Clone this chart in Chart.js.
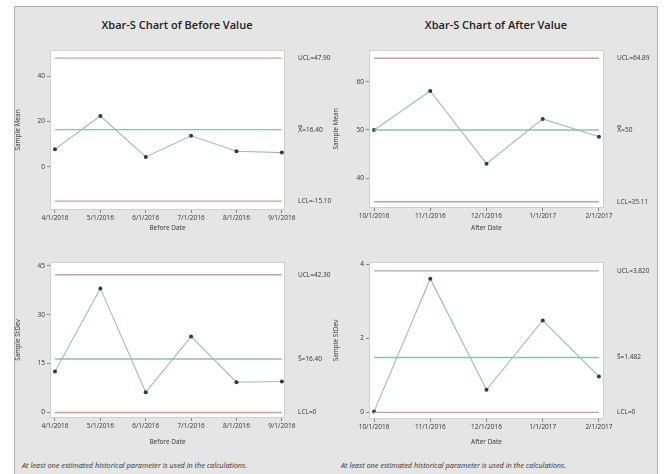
<!DOCTYPE html>
<html><head><meta charset="utf-8">
<script src="https://cdn.jsdelivr.net/npm/chart.js@4.4.1/dist/chart.umd.min.js"></script>
<style>
html,body{margin:0;padding:0;background:#fff;width:664px;height:474px;overflow:hidden;font-family:"Open Sans",sans-serif;}
#frame{position:absolute;left:14px;top:6px;width:644px;height:470px;background:#e5e5e5;border:1px solid #b0b0b0;border-bottom:none;box-sizing:border-box;}
.wrap{position:absolute;}
.title{position:absolute;font-size:11px;font-weight:600;color:#222;text-align:center;white-space:nowrap;}
.note{position:absolute;font-size:7.3px;font-style:italic;color:#333;white-space:nowrap;}
</style></head><body>
<div id="frame"></div>
<div class="title" style="left:14px;width:326px;top:17px">Xbar-S Chart of Before Value</div>
<div class="title" style="left:332px;width:328px;top:17px">Xbar-S Chart of After Value</div>
<div class="wrap" style="left:14px;top:6px;width:318px;height:226px"><canvas id="c1" width="318" height="226"></canvas></div>
<div class="wrap" style="left:332px;top:6px;width:326px;height:226px"><canvas id="c2" width="326" height="226"></canvas></div>
<div class="wrap" style="left:14px;top:238px;width:318px;height:208px"><canvas id="c3" width="318" height="208"></canvas></div>
<div class="wrap" style="left:332px;top:238px;width:326px;height:208px"><canvas id="c4" width="326" height="208"></canvas></div>
<div class="note" style="left:22px;top:460px">At least one estimated historical parameter is used in the calculations.</div>
<div class="note" style="left:341px;top:460px">At least one estimated historical parameter is used in the calculations.</div>
<script>
// ---- data ----
const beforeDates = ['4/1/2016','5/1/2016','6/1/2016','7/1/2016','8/1/2016','9/1/2016'];
const afterDates = ['10/1/2016','11/1/2016','12/1/2016','1/1/2017','2/1/2017'];
const beforeMeans = [7.8, 22.4, 4.4, 13.7, 6.9, 6.3];
const afterMeans = [50.0, 58.1, 43.0, 52.3, 48.6];
const beforeStDevs = [12.6, 38.1, 6.2, 23.3, 9.3, 9.5];
const afterStDevs = [0.02, 3.61, 0.61, 2.48, 0.97];
const beforeMeanLimits = [47.9, 16.4, -15.1];   // UCL, CL, LCL
const afterMeanLimits = [64.89, 50.0, 35.11];
const beforeStDevLimits = [42.3, 16.4, 0];
const afterStDevLimits = [3.82, 1.482, 0];
const beforeMeanLimitText = ['UCL=47.90', 'X\u033F=16.40', 'LCL=-15.10'];
const afterMeanLimitText = ['UCL=64.89', 'X\u033F=50', 'LCL=35.11'];
const beforeStDevLimitText = ['UCL=42.30', 'S\u0304=16.40', 'LCL=0'];
const afterStDevLimitText = ['UCL=3.820', 'S\u0304=1.482', 'LCL=0'];
const beforeMeanTicks = [0, 20, 40];
const afterMeanTicks = [40, 50, 60];
const beforeStDevTicks = [0, 15, 30, 45];
const afterStDevTicks = [0, 2, 4];

const FONT = {family:'"Open Sans", sans-serif', size:6.5};
const plotBg = {id:'plotBg', beforeDraw(c){const a=c.chartArea,ctx=c.ctx;ctx.save();ctx.fillStyle='#fff';ctx.fillRect(a.left,a.top,a.width,a.height);ctx.strokeStyle='#cfcfcf';ctx.lineWidth=1;ctx.strokeRect(a.left+0.5,a.top+0.5,a.width-1,a.height-1);ctx.restore();}};

function makeChart(id, o){
  const n = o.labels.length;
  const lim = (v)=>[{x:0,y:v},{x:n-1,y:v}];
  const limitStyle = (col)=>({borderColor:col,borderWidth:1.4,pointRadius:0,fill:false,tension:0});
  new Chart(document.getElementById(id), {
    type:'line',
    data:{datasets:[
      Object.assign({data:lim(o.limits[0])}, limitStyle('#c9a0a0')),
      Object.assign({data:lim(o.limits[1])}, limitStyle('#8fc0a8')),
      Object.assign({data:lim(o.limits[2])}, limitStyle('#c9a0a0')),
      {data:o.values.map((v,i)=>({x:i,y:v})), borderColor:'#9db9c8', borderWidth:1.1, pointRadius:2, pointBackgroundColor:'#2f3b4a', pointBorderColor:'#2f3b4a', pointBorderWidth:0, tension:0, fill:false}
    ]},
    options:{
      responsive:false, animation:false, events:[],
      layout:{padding:{top:o.top,left:0,right:0,bottom:0}},
      plugins:{legend:{display:false},tooltip:{enabled:false}},
      scales:{
        x:{type:'linear',min:o.xMin,max:o.xMax,
          afterBuildTicks:s=>{s.ticks=o.labels.map((_,i)=>({value:i}));},
          ticks:{callback:v=>o.labels[v],font:FONT,color:'#333',padding:1,maxRotation:0,autoSkip:false},
          grid:{drawOnChartArea:false,tickLength:3,color:'#888'},border:{display:false},
          title:{display:true,text:o.xTitle,font:FONT,color:'#333',padding:{top:1,bottom:0}},
          afterFit:s=>{s.height=o.bottom;}},
        y:{type:'linear',position:'left',min:o.yMin,max:o.yMax,
          afterBuildTicks:s=>{s.ticks=o.yTicks.map(v=>({value:v}));},
          ticks:{font:FONT,color:'#333',padding:2,autoSkip:false},
          grid:{drawOnChartArea:false,tickLength:3,color:'#888'},border:{display:false},
          title:{display:true,text:o.yTitle,font:FONT,color:'#333',padding:{top:0,bottom:3}},
          afterFit:s=>{s.width=o.left;}},
        y2:{type:'linear',position:'right',min:o.yMin,max:o.yMax,
          afterBuildTicks:s=>{s.ticks=o.limits.map(v=>({value:v}));},
          ticks:{callback:(v)=>o.limitText[o.limits.indexOf(v)],font:FONT,color:'#333',padding:5,autoSkip:false},
          grid:{display:false},border:{display:false},
          afterFit:s=>{s.width=o.right;}}
      }
    },
    plugins:[plotBg]
  });
}

makeChart('c1',{labels:beforeDates,values:beforeMeans,limits:beforeMeanLimits,limitText:beforeMeanLimitText,
  yMin:-19,yMax:51.5,yTicks:beforeMeanTicks,yTitle:'Sample Mean',xTitle:'Before Date',
  xMin:-0.11,xMax:5.07,top:44,bottom:22,left:36,right:47});
makeChart('c2',{labels:afterDates,values:afterMeans,limits:afterMeanLimits,limitText:afterMeanLimitText,
  yMin:33.8,yMax:66.6,yTicks:afterMeanTicks,yTitle:'Sample Mean',xTitle:'After Date',
  xMin:-0.09,xMax:4.09,top:44,bottom:24,left:37,right:54});
makeChart('c3',{labels:beforeDates,values:beforeStDevs,limits:beforeStDevLimits,limitText:beforeStDevLimitText,
  yMin:-1.7,yMax:46.2,yTicks:beforeStDevTicks,yTitle:'Sample StDev',xTitle:'Before Date',
  xMin:-0.11,xMax:5.07,top:24,bottom:28,left:36,right:47});
makeChart('c4',{labels:afterDates,values:afterStDevs,limits:afterStDevLimits,limitText:afterStDevLimitText,
  yMin:-0.18,yMax:4.06,yTicks:afterStDevTicks,yTitle:'Sample StDev',xTitle:'After Date',
  xMin:-0.09,xMax:4.09,top:24,bottom:27,left:37,right:54});
</script>
</body></html>
